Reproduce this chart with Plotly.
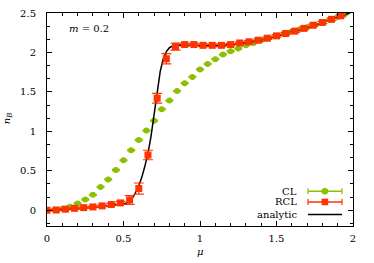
import plotly.graph_objects as go

# ---- data ----
cl_mu = [0.0, 0.05, 0.1, 0.15, 0.2, 0.25, 0.3, 0.35, 0.4, 0.45, 0.5, 0.55, 0.6, 0.65,
         0.7, 0.75, 0.8, 0.85, 0.9, 0.95, 1.0, 1.05, 1.1, 1.15, 1.2, 1.25, 1.3, 1.35,
         1.4, 1.45, 1.5, 1.55, 1.6, 1.65, 1.7, 1.75, 1.8, 1.85, 1.9, 1.95]
cl_nb = [0.0, 0.005, 0.018, 0.045, 0.085, 0.136, 0.195, 0.295, 0.39, 0.51, 0.632, 0.76,
         0.89, 1.01, 1.135, 1.28, 1.39, 1.51, 1.61, 1.69, 1.785, 1.855, 1.915, 1.975,
         2.015, 2.05, 2.09, 2.12, 2.155, 2.185, 2.21, 2.24, 2.265, 2.29, 2.32, 2.35,
         2.385, 2.415, 2.45, 2.49]
cl_err = [0.005] * len(cl_mu)

rcl_mu = [0.0, 0.06, 0.12, 0.18, 0.24, 0.30, 0.36, 0.42, 0.48, 0.54, 0.60, 0.66, 0.72,
          0.78, 0.84, 0.90, 0.96, 1.02, 1.08, 1.14, 1.20, 1.26, 1.32, 1.38, 1.44, 1.50,
          1.56, 1.62, 1.68, 1.74, 1.80, 1.86, 1.92]
rcl_nb = [0.0, 0.003, 0.013, 0.024, 0.033, 0.042, 0.055, 0.072, 0.093, 0.13, 0.275, 0.70,
          1.42, 1.92, 2.075, 2.10, 2.10, 2.09, 2.09, 2.09, 2.10, 2.12, 2.135, 2.155, 2.18,
          2.21, 2.24, 2.27, 2.305, 2.345, 2.38, 2.42, 2.465]
rcl_err = [0.01, 0.01, 0.01, 0.01, 0.01, 0.01, 0.01, 0.015, 0.02, 0.055, 0.07, 0.06,
           0.062, 0.065, 0.045, 0.02, 0.015, 0.015, 0.015, 0.015, 0.015, 0.015, 0.015,
           0.015, 0.015, 0.015, 0.015, 0.015, 0.015, 0.015, 0.015, 0.015, 0.015]

an_mu = [0.0, 0.1, 0.2, 0.3, 0.4, 0.5, 0.54, 0.57, 0.6, 0.62, 0.64, 0.66, 0.68, 0.70,
         0.72, 0.74, 0.76, 0.78, 0.80, 0.83, 0.87, 0.95, 1.05, 1.15, 1.25, 1.35, 1.45,
         1.55, 1.65, 1.75, 1.85, 1.95, 2.0]
an_nb = [0.0, 0.008, 0.02, 0.035, 0.055, 0.08, 0.105, 0.19, 0.31, 0.42, 0.56, 0.72, 0.94,
         1.22, 1.50, 1.76, 1.92, 2.01, 2.06, 2.09, 2.095, 2.09, 2.085, 2.09, 2.11, 2.14,
         2.18, 2.235, 2.285, 2.345, 2.41, 2.48, 2.52]

x_ticks = [0, 0.5, 1, 1.5, 2]
x_tick_labels = ["0", "0.5", "1", "1.5", "2"]
y_ticks = [0, 0.5, 1, 1.5, 2, 2.5]
y_tick_labels = ["0", "0.5", "1", "1.5", "2", "2.5"]

GREEN = "#8cc000"
RED = "#ff3300"
FONT = "DejaVu Serif"
FS = 10

fig = go.Figure()
fig.add_trace(go.Scatter(
    x=cl_mu, y=cl_nb, mode="markers", name="CL",
    marker=dict(symbol="circle", size=6, color=GREEN),
    error_y=dict(type="data", array=cl_err, color=GREEN, thickness=1.5, width=4),
    showlegend=False))
fig.add_trace(go.Scatter(
    x=an_mu, y=an_nb, mode="lines", name="analytic",
    line=dict(color="black", width=1.5), showlegend=False))
fig.add_trace(go.Scatter(
    x=rcl_mu, y=rcl_nb, mode="markers", name="RCL",
    marker=dict(symbol="square", size=7, color=RED),
    error_y=dict(type="data", array=rcl_err, color=RED, thickness=1.2, width=5),
    showlegend=False))

axis_common = dict(
    showline=True, linecolor="black", linewidth=1, mirror="allticks",
    ticks="inside", ticklen=5, tickcolor="black", tickwidth=1,
    showgrid=False, zeroline=False, automargin=False,
    tickfont=dict(family=FONT, size=FS, color="black"),
)
fig.update_xaxes(range=[0, 2], tickvals=x_ticks, ticktext=x_tick_labels,
                 minor=dict(dtick=0.1, ticklen=3, ticks="inside", tickcolor="black"),
                 ticklabelstandoff=3, **axis_common)
fig.update_yaxes(range=[-0.2, 2.5], tickvals=y_ticks, ticktext=y_tick_labels,
                 minor=dict(tick0=0, dtick=0.5 / 3, ticklen=3, ticks="inside", tickcolor="black"),
                 ticklabelstandoff=8, **axis_common)

ann = [
    dict(text="<i>m</i> = 0.2", x=0.065, y=0.925, xref="paper", yref="paper",
         xanchor="left", yanchor="middle", showarrow=False,
         font=dict(family=FONT, size=FS, color="black")),
    dict(text="<i>n<sub>B</sub></i>", x=-0.13, y=0.507, xref="paper", yref="paper",
         textangle=-90, xanchor="center", yanchor="middle", showarrow=False,
         font=dict(family=FONT, size=FS, color="black")),
    dict(text="<i>μ</i>", x=0.5, y=-0.12, xref="paper", yref="paper",
         xanchor="center", yanchor="middle", showarrow=False,
         font=dict(family=FONT, size=FS, color="black")),
]
# manual gnuplot-style key (text left of sample)
key_rows = [("CL", 0.163, GREEN, "circle"), ("RCL", 0.113, RED, "square"),
            ("analytic", 0.054, "black", None)]
shapes = []
x0, x1, xm = 0.853, 0.964, 0.908
for label, yk, col, sym in key_rows:
    ann.append(dict(text=label, x=0.822, y=yk, xref="paper", yref="paper",
                    xanchor="right", yanchor="middle", showarrow=False,
                    font=dict(family=FONT, size=FS, color="black")))
    shapes.append(dict(type="line", xref="paper", yref="paper", x0=x0, x1=x1, y0=yk, y1=yk,
                       line=dict(color=col, width=1.5)))
    if sym:
        for xc in (x0, x1):
            shapes.append(dict(type="line", xref="paper", yref="paper", x0=xc, x1=xc,
                               y0=yk - 0.014, y1=yk + 0.014, line=dict(color=col, width=1.2)))
        dx, dy = 3.3 / 306, 3.3 / 213
        shapes.append(dict(type="circle" if sym == "circle" else "rect",
                           xref="paper", yref="paper",
                           x0=xm - dx, x1=xm + dx, y0=yk - dy, y1=yk + dy,
                           fillcolor=col, line=dict(color=col, width=0)))

fig.update_layout(
    width=374, height=263,
    margin=dict(l=47, r=21, t=13, b=37),
    paper_bgcolor="white", plot_bgcolor="white",
    annotations=ann, shapes=shapes,
    font=dict(family=FONT, size=FS, color="black"),
)
fig.write_html("out.html", config={"displayModeBar": False},
               post_script="document.body.style.margin='0';document.body.style.overflow='hidden';")
